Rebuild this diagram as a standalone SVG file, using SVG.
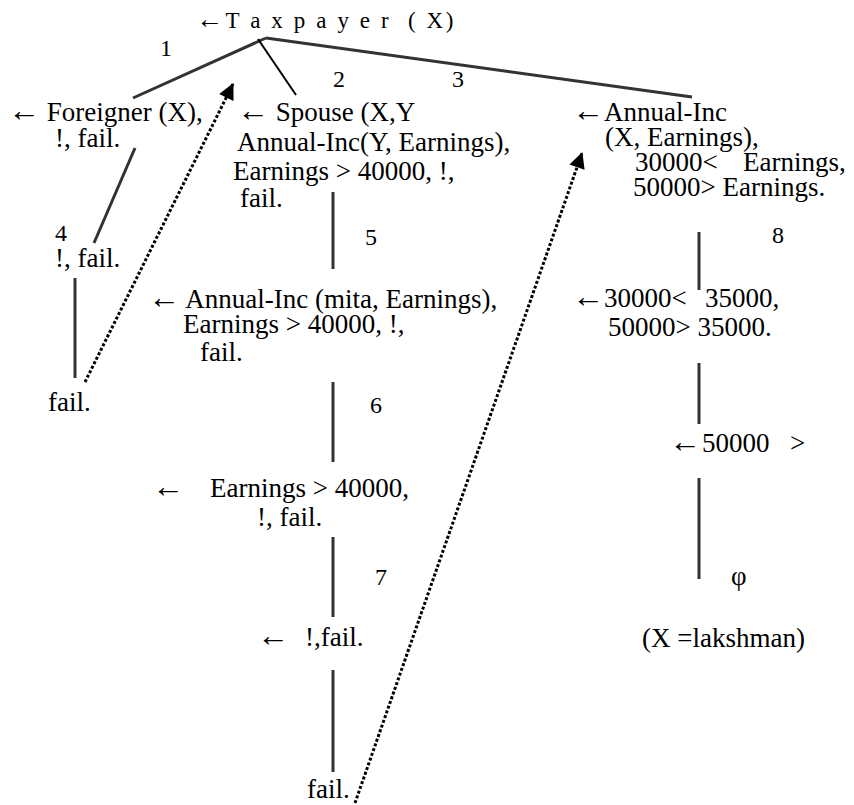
<svg xmlns="http://www.w3.org/2000/svg" width="854" height="805" viewBox="0 0 854 805">
<style>
text{font-family:"Liberation Serif","Times New Roman",serif;font-size:27px;fill:#000}
.n{font-size:24px}
.t{font-size:23px;letter-spacing:2.6px}
.a{font-size:32px}
.e{stroke:#333;stroke-width:3;fill:none}
.e2{stroke:#000;stroke-width:2;fill:none}
.d{stroke:#000;stroke-width:3;stroke-dasharray:3 2;fill:none}
</style>
<defs>
<marker id="ah" markerUnits="userSpaceOnUse" markerWidth="18" markerHeight="18" viewBox="0 -9 16 18" refX="15" refY="0" orient="auto">
<path d="M0,-8 L16,0 L0,8 z" fill="#000"/>
</marker>
</defs>
<rect width="854" height="805" fill="#fff"/>
<g id="connectors">
<line class="e" x1="133" y1="98" x2="266" y2="38"/>
<line class="e2" x1="258" y1="39" x2="296" y2="95"/>
<line class="e" x1="266" y1="38" x2="692" y2="97"/>
<line class="e" x1="135" y1="148" x2="94" y2="243"/>
<line class="e" x1="75" y1="278" x2="75" y2="378"/>
<line class="e" x1="333" y1="192" x2="333" y2="269"/>
<line class="e" x1="333" y1="382" x2="333" y2="462"/>
<line class="e" x1="333" y1="537" x2="333" y2="617"/>
<line class="e" x1="333" y1="670" x2="333" y2="772"/>
<line class="e" x1="699" y1="232" x2="699" y2="290"/>
<line class="e" x1="699" y1="363" x2="699" y2="424"/>
<line class="e" x1="699" y1="478" x2="699" y2="579"/>
<line class="d" x1="85" y1="382" x2="233" y2="84" marker-end="url(#ah)"/>
<line class="d" x1="355" y1="803" x2="582" y2="153" marker-end="url(#ah)"/>
<text class="n" x="160" y="56">1</text>
<text class="n" x="333" y="87">2</text>
<text class="n" x="452" y="87">3</text>
<text class="n" x="55" y="241">4</text>
<text class="n" x="365" y="245">5</text>
<text class="n" x="370" y="413">6</text>
<text class="n" x="375" y="585">7</text>
<text class="n" x="772" y="243">8</text>
</g>
<g id="root"><text class="t" x="196" y="28" xml:space="preserve"><tspan font-size="27">←</tspan>T a x p a y e r  ( X)</text></g>
<g id="foreigner">
<text x="8" y="121"><tspan class="a">←</tspan> Foreigner (X),</text>
<text x="55" y="147">!, fail.</text>
</g>
<g id="cut1"><text x="55" y="267">!, fail.</text></g>
<g id="fail1"><text x="48" y="411">fail.</text></g>
<g id="spouse">
<text x="237" y="121"><tspan class="a">←</tspan> Spouse (X,Y</text>
<text x="237" y="151">Annual-Inc(Y, Earnings),</text>
<text x="233" y="180">Earnings &gt; 40000, !,</text>
<text x="240" y="207">fail.</text>
</g>
<g id="mita">
<text x="148" y="308"><tspan class="a">←</tspan> Annual-Inc (mita, Earnings),</text>
<text x="183" y="333">Earnings &gt; 40000, !,</text>
<text x="200" y="361">fail.</text>
</g>
<g id="earn">
<text y="497"><tspan class="a" x="152">←</tspan><tspan x="210">Earnings &gt; 40000,</tspan></text>
<text x="257" y="526">!, fail.</text>
</g>
<g id="cut2"><text y="646"><tspan class="a" x="257">←</tspan><tspan x="305">!,fail.</tspan></text></g>
<g id="fail2"><text x="307" y="798">fail.</text></g>
<g id="annual">
<text x="572" y="121"><tspan class="a">←</tspan>Annual-Inc</text>
<text x="605" y="146">(X, Earnings),</text>
<text y="171"><tspan x="635">30000&lt;</tspan><tspan x="743">Earnings,</tspan></text>
<text x="633" y="196">50000&gt; Earnings.</text>
</g>
<g id="cmp">
<text y="307"><tspan class="a" x="572">←</tspan><tspan>30000&lt;</tspan><tspan x="705">35000,</tspan></text>
<text x="608" y="336">50000&gt; 35000.</text>
</g>
<g id="cmp2"><text y="452"><tspan class="a" x="669">←</tspan><tspan x="702">50000</tspan><tspan x="790">&gt;</tspan></text></g>
<g id="empty"><text x="731" y="585">φ</text></g>
<g id="answer"><text x="642" y="647">(X =lakshman)</text></g>
</svg>
